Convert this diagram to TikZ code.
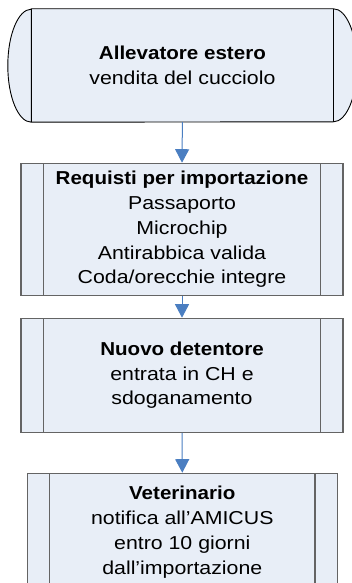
\documentclass[tikz,border=0pt]{standalone}
\usepackage{fontspec}
\setmainfont{Liberation Sans}[UprightFeatures={FakeStretch=1.14}, BoldFeatures={FakeStretch=1.10}]
\usetikzlibrary{arrows.meta}
\definecolor{boxfill}{RGB}{232,238,247}
\definecolor{boxedge}{RGB}{100,100,100}
\definecolor{arrowblue}{RGB}{74,126,193}
\begin{document}
\begin{tikzpicture}[x=1pt,y=-1pt,
  txt/.style={font=\fontsize{18.7}{24.8}\selectfont, align=center, inner sep=0pt},
  procbox/.style={txt, rectangle, draw=boxedge, fill=boxfill, line width=1.2pt,
    minimum width=#1, path picture={
      \draw[boxedge, line width=1.2pt]
        ([xshift=22.3pt]path picture bounding box.north west) -- ([xshift=22.3pt]path picture bounding box.south west)
        ([xshift=-22.3pt]path picture bounding box.north east) -- ([xshift=-22.3pt]path picture bounding box.south east);}},
  flow/.style={draw=arrowblue, line width=1pt, -{Triangle[width=14pt,length=13.5pt]}}
]
\useasboundingbox (0,0) rectangle (352,583);
% top terminator-like shape
\node[inner sep=0pt, minimum width=301.8pt, minimum height=113pt] (t) at (182.4,65.5) {};
\fill[boxfill] (t.north west) -- (t.north east)
  arc[start angle=90, end angle=-90, x radius=23.5pt, y radius=56.5pt]
  -- (t.south west)
  arc[start angle=270, end angle=90, x radius=23.5pt, y radius=56.5pt] -- cycle;
\draw[black, line width=0.9pt] (t.north west) -- (t.north east)
  arc[start angle=90, end angle=-90, x radius=23.5pt, y radius=56.5pt]
  -- (t.south west)
  arc[start angle=270, end angle=90, x radius=23.5pt, y radius=56.5pt] -- cycle
  (t.north west) -- (t.south west) (t.north east) -- (t.south east);
\node[txt] (tt) at (t.center) {\textbf{Allevatore estero}\\vendita del cucciolo};

\node[procbox=322pt, minimum height=132.4pt] (b2) at (182,229.5)
  {\textbf{Requisti per importazione}\\Passaporto\\Microchip\\Antirabbica valida\\Coda/orecchie integre};
\node[procbox=322pt, minimum height=114pt] (b3) at (182,375.3)
  {\textbf{Nuovo detentore}\\entrata in CH e\\sdoganamento};
\node[procbox=310pt, minimum height=118pt] (b4) at (182.3,532.3)
  {\textbf{Veterinario}\\notifica all’AMICUS\\entro 10 giorni\\dall’importazione};

\draw[flow] (t.south) -- (b2.north);
\draw[flow] (b2.south) -- (b3.north);
\draw[flow] (b3.south) -- (b4.north);
\end{tikzpicture}
\end{document}
